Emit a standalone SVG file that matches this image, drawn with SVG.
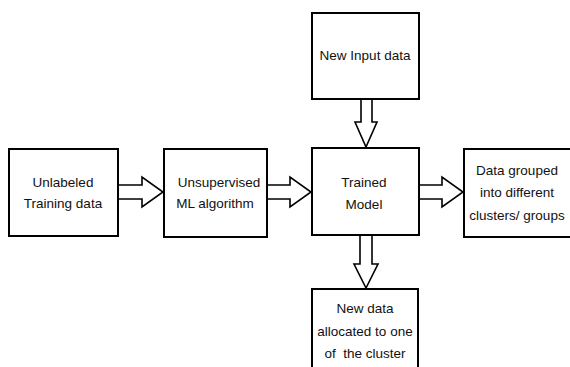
<svg xmlns="http://www.w3.org/2000/svg" width="570" height="367" viewBox="0 0 570 367">
  <style>
    .box { fill: #ffffff; stroke: #000000; stroke-width: 2; }
    .arrow { fill: #ffffff; stroke: #000000; stroke-width: 1.6; stroke-linejoin: miter; }
    text { font-family: "Liberation Sans", Arial, sans-serif; font-size: 13.5px; fill: #111111; text-anchor: middle; }
  </style>
  <rect width="570" height="367" fill="#ffffff"/>

  <!-- connectors: hollow block arrows -->
  <g id="connectors">
    <polygon class="arrow" points="118,185 142,185 142,177 163,192 142,207 142,199 118,199"/>
    <polygon class="arrow" points="267,185 290,185 290,177 311,192 290,207 290,199 267,199"/>
    <polygon class="arrow" points="419,185 442,185 442,177 463,192 442,207 442,199 419,199"/>
    <polygon class="arrow" points="361,99 372,99 372,122 377,122 366,147 355,122 361,122"/>
    <polygon class="arrow" points="360,235 372,235 372,264 378,264 366,288 354,264 360,264"/>
  </g>

  <g id="unlabeled-data">
    <rect class="box" x="9" y="149" width="109" height="87"/>
    <text x="63" y="187">Unlabeled</text>
    <text x="63" y="208">Training data</text>
  </g>

  <g id="ml-algorithm">
    <rect class="box" x="164" y="149" width="103" height="88"/>
    <text x="219" y="187">Unsupervised</text>
    <text x="215" y="208">ML algorithm</text>
  </g>

  <g id="new-input">
    <rect class="box" x="312" y="13" width="107" height="86"/>
    <text x="365" y="60">New Input data</text>
  </g>

  <g id="trained-model">
    <rect class="box" x="312" y="148" width="107" height="87"/>
    <text x="364" y="187">Trained</text>
    <text x="364" y="209">Model</text>
  </g>

  <g id="grouped-data">
    <rect class="box" x="464" y="149" width="110" height="88"/>
    <text x="517" y="175">Data grouped</text>
    <text x="517" y="197">into different</text>
    <text x="517" y="220">clusters/ groups</text>
  </g>

  <g id="allocated-data">
    <rect class="box" x="312" y="289" width="106" height="90"/>
    <text x="365" y="313">New data</text>
    <text x="365" y="336">allocated to one</text>
    <text x="365" y="358" xml:space="preserve">of  the cluster</text>
  </g>
</svg>
